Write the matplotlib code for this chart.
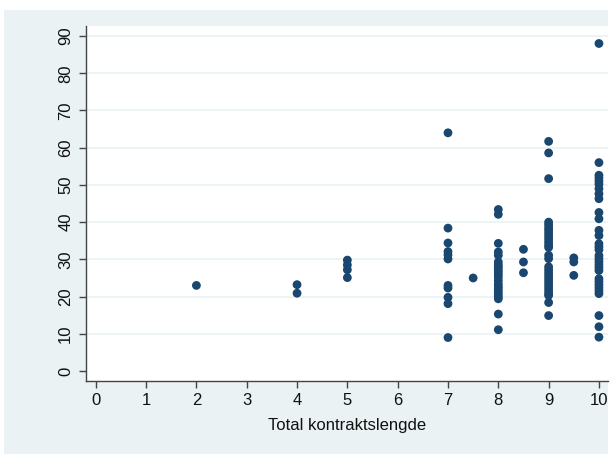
import matplotlib
matplotlib.use("Agg")
import matplotlib.pyplot as plt
from matplotlib.patches import Rectangle

# ---- data ----
y_at_2 = [23.0]
y_at_4 = [23.2, 20.9]
y_at_5 = [29.8, 28.5, 27.2, 25.1]
y_at_7 = [64.0, 38.4, 34.4, 32.1, 31.2, 30.1, 23.0, 22.3, 19.8, 18.1, 9.0]
y_at_7_5 = [25.0]
y_at_8 = [43.4, 42.1, 34.3, 32.0, 31.1, 29.3, 28.5, 27.9, 27.2, 26.6, 25.9,
          25.2, 24.3, 23.4, 22.7, 22.1, 21.4, 20.7, 20.0, 19.4, 15.3, 11.1]
y_at_8_5 = [32.7, 29.3, 26.4]
y_at_9 = [61.7, 58.6, 51.7, 40.0, 39.3, 38.5, 37.8, 37.0, 36.2, 35.4, 34.6,
          33.8, 33.2, 31.1, 30.2, 28.0, 27.2, 26.4, 25.6, 24.8, 24.0, 23.2,
          22.4, 21.6, 20.8, 20.3, 18.4, 14.9]
y_at_9_5 = [30.4, 29.3, 25.7]
y_at_10 = [88.0, 56.0, 52.6, 51.8, 51.0, 50.2, 49.0, 47.6, 46.3, 42.6, 40.9,
           37.8, 36.4, 34.2, 33.4, 32.6, 31.0, 30.2, 29.4, 28.6, 27.8, 27.0,
           24.8, 24.0, 23.2, 22.4, 21.6, 20.8, 14.9, 11.9, 9.1]

x_groups = [2, 4, 5, 7, 7.5, 8, 8.5, 9, 9.5, 10]
y_groups = [y_at_2, y_at_4, y_at_5, y_at_7, y_at_7_5, y_at_8, y_at_8_5,
            y_at_9, y_at_9_5, y_at_10]

x_ticks = list(range(0, 11))
y_ticks = list(range(0, 100, 10))
x_label = "Total kontraktslengde"

xs, ys = [], []
for xv, yl in zip(x_groups, y_groups):
    xs += [xv] * len(yl)
    ys += yl

# ---- figure ----
plt.rcParams['font.family'] = ['Liberation Sans', 'DejaVu Sans']
W, H = 610, 454
fig = plt.figure(figsize=(W / 100, H / 100), dpi=100, facecolor="white")
bg = "#EAF2F3"
fig.patches.append(Rectangle((4 / W, 0), (608 - 4) / W, (H - 10) / H,
                             transform=fig.transFigure, facecolor=bg,
                             edgecolor="none", zorder=-10))

left, right, top, bottom = 85.7, 608, 26, 380.7
ax = fig.add_axes([left / W, 1 - bottom / H, (right - left) / W, (bottom - top) / H])
ax.set_zorder(5)
ax.set_facecolor("white")

ax.scatter(xs, ys, s=40, color="#1A476F", edgecolors="none", zorder=3, clip_on=False)

ax.set_xlim(-0.2, 10.18)
ax.set_ylim(-2.6, 92.7)
ax.set_xticks(x_ticks)
ax.set_yticks(y_ticks)
for yv in y_ticks[1:]:
    ax.axhline(yv, color=bg, lw=1.2, zorder=1)

for s in ["top", "right"]:
    ax.spines[s].set_visible(False)
for s in ["left", "bottom"]:
    ax.spines[s].set_color("#444444")
    ax.spines[s].set_linewidth(1.0)

ax.tick_params(axis="both", direction="out", length=5, width=1,
               color="#444444", labelsize=12, labelcolor="#111111", pad=4)
plt.setp(ax.get_yticklabels(), rotation=90, va="center")
ax.set_xlabel(x_label, fontsize=12, color="#111111", labelpad=7)

fig.savefig("out.png", dpi=100, facecolor="white")
